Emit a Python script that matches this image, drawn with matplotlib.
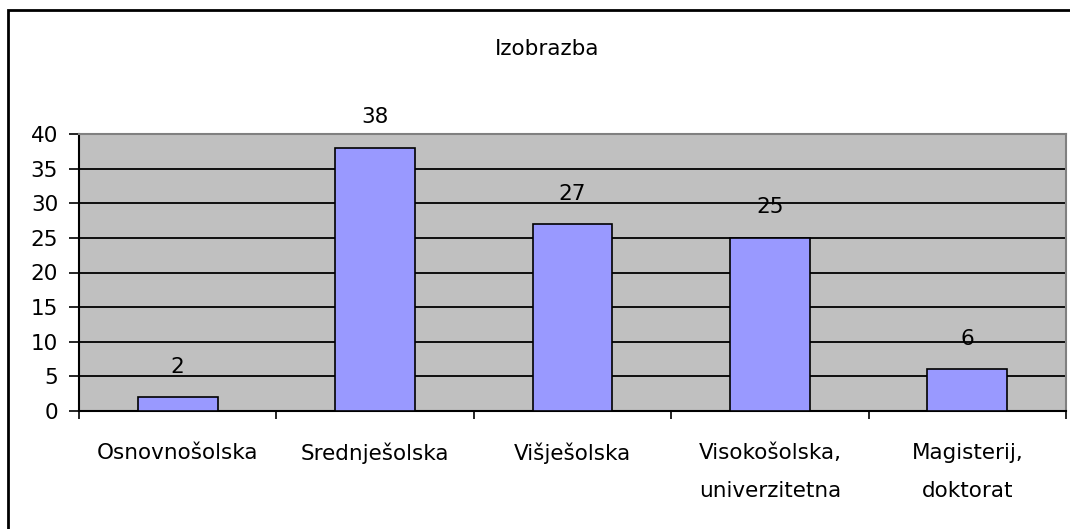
import matplotlib.pyplot as plt
from matplotlib.patches import Rectangle

categories = ["Osnovnošolska", "Srednješolska", "Višješolska",
              "Visokošolska,\nuniverzitetna", "Magisterij,\ndoktorat"]
values = [2, 38, 27, 25, 6]
title = "Izobrazba"

W, H = 1070, 529
FS = 15.5
fig = plt.figure(figsize=(W / 100, H / 100), dpi=100)
plt.rcParams['font.family'] = ['DejaVu Sans']

# frame around the whole chart (right and bottom edge are cut off)
fig.patches.append(Rectangle((8 / W, -0.05), 1.2, 1 - 10 / H + 0.05,
                             transform=fig.transFigure, fill=False,
                             edgecolor="black", linewidth=2))

left, right, top, bottom = 79, 1066, 134, 411
ax = fig.add_axes([left / W, 1 - bottom / H, (right - left) / W, (bottom - top) / H])
ax.set_facecolor("#C0C0C0")

x = range(len(categories))
ax.bar(x, values, width=0.405, color="#9999FF", edgecolor="black", linewidth=1.2, zorder=3)
for xi, v in zip(x, values):
    ax.text(xi, v + 4.4, str(v), ha="center", va="center", fontsize=FS, zorder=4,
            clip_on=False)

ax.set_xlim(-0.5, len(categories) - 0.5)
ax.set_ylim(0, 40)
ax.set_yticks(range(0, 41, 5))
for y in range(5, 40, 5):
    ax.axhline(y, color="black", linewidth=1.3, zorder=1)

ax.set_xticks([i - 0.5 for i in range(len(categories) + 1)])
ax.set_xticklabels([])
ax.set_xticks(list(x), minor=True)
ax.set_xticklabels(categories, minor=True, fontsize=FS, linespacing=2.1, va="top")
ax.tick_params(axis="x", which="minor", length=0, pad=23)
ax.tick_params(axis="x", which="major", length=6, width=1.2, direction="out")
ax.tick_params(axis="y", length=7, width=1.2, labelsize=FS, pad=8)

ax.spines["top"].set_color("#808080")
ax.spines["right"].set_color("#808080")
for s in ax.spines.values():
    s.set_linewidth(1.5)

fig.text(547 / W, 1 - 49 / H, title, ha="center", va="center", fontsize=FS)

fig.savefig("out.png", dpi=100)
